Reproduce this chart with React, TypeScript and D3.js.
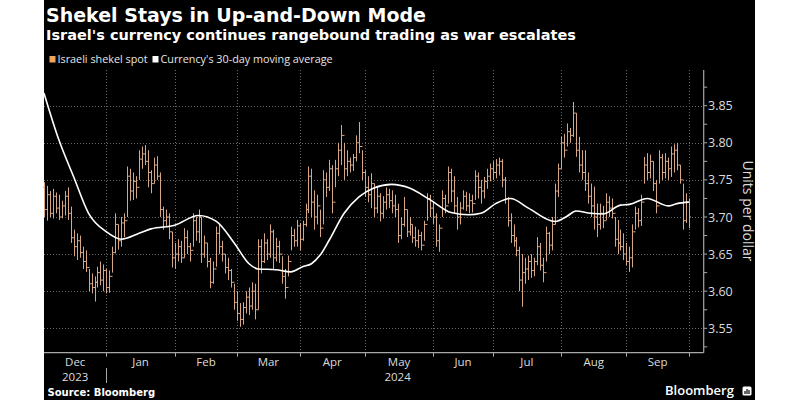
import React from "react";
import * as d3 from "d3";

// Weekday-indexed OHLC data, Dec 1 2023 (index 0) through Oct 1 2024 (index 217)
const opens = [
  // Dec
  3.740,3.710,3.730,3.705,3.728,3.712,3.700,3.715,3.728,3.705,3.672,3.660,3.668,3.652,3.640,3.632,3.610,3.605,3.612,3.625,3.615,
  // Jan
  3.628,3.605,3.620,3.652,3.690,3.668,3.692,3.695,3.755,3.735,3.748,3.740,3.778,3.785,3.775,3.760,3.745,3.770,3.755,3.710,3.695,3.700,3.680,
  // Feb
  3.645,3.650,3.660,3.645,3.672,3.660,3.655,3.695,3.680,3.700,3.650,3.665,3.640,3.612,3.630,3.678,3.660,3.650,3.632,3.628,3.612,
  // Mar
  3.585,3.570,3.562,3.578,3.592,3.580,3.600,3.575,3.660,3.640,3.665,3.650,3.680,3.645,3.660,3.650,3.620,3.605,3.640,3.675,3.668,
  // Apr
  3.688,3.670,3.690,3.710,3.755,3.720,3.700,3.715,3.685,3.750,3.740,3.765,3.720,3.765,3.790,3.810,3.765,3.775,3.770,3.780,3.800,3.795,
  // May
  3.760,3.740,3.730,3.745,3.712,3.728,3.705,3.720,3.730,3.722,3.715,3.710,3.675,3.690,3.710,3.680,3.690,3.672,3.668,3.675,3.662,3.690,3.725,
  // Jun
  3.712,3.700,3.668,3.685,3.725,3.715,3.760,3.735,3.715,3.700,3.712,3.728,3.715,3.722,3.718,3.755,3.740,3.735,3.748,3.755,
  // Jul
  3.765,3.760,3.770,3.775,3.750,3.725,3.695,3.675,3.668,3.655,3.615,3.625,3.630,3.640,3.628,3.640,3.660,3.635,3.625,3.678,3.662,3.690,3.735,
  // Aug
  3.765,3.800,3.790,3.815,3.810,3.840,3.790,3.770,3.760,3.745,3.728,3.715,3.700,3.690,3.705,3.695,3.720,3.712,3.705,3.670,3.665,3.660,
  // Sep + Oct 1
  3.650,3.640,3.645,3.680,3.705,3.695,3.720,3.770,3.760,3.775,3.745,3.715,3.780,3.760,3.775,3.765,3.785,3.790,3.770,3.750,3.695,3.720,
];
const highs = [
  3.747,3.742,3.735,3.738,3.733,3.730,3.722,3.735,3.740,3.714,3.683,3.678,3.675,3.660,3.655,3.630,3.624,3.620,3.633,3.640,3.636,
  3.630,3.628,3.660,3.705,3.690,3.700,3.705,3.768,3.765,3.760,3.755,3.790,3.795,3.797,3.790,3.763,3.780,3.782,3.760,3.714,3.710,3.705,3.680,
  3.665,3.670,3.668,3.685,3.682,3.665,3.705,3.700,3.710,3.700,3.675,3.665,3.645,3.640,3.687,3.690,3.668,3.650,3.645,3.630,3.610,
  3.600,3.584,3.585,3.600,3.605,3.612,3.610,3.670,3.670,3.678,3.670,3.690,3.683,3.672,3.668,3.647,3.630,3.648,3.687,3.684,3.696,
  3.692,3.695,3.718,3.768,3.765,3.736,3.730,3.710,3.763,3.760,3.777,3.770,3.777,3.800,3.824,3.800,3.790,3.780,3.785,3.810,3.828,3.790,
  3.763,3.755,3.759,3.745,3.740,3.732,3.728,3.740,3.738,3.736,3.730,3.718,3.700,3.727,3.710,3.700,3.690,3.687,3.683,3.680,3.695,3.732,3.730,
  3.720,3.705,3.690,3.736,3.730,3.768,3.765,3.755,3.727,3.720,3.736,3.734,3.732,3.730,3.763,3.760,3.750,3.754,3.765,3.772,
  3.775,3.778,3.780,3.778,3.754,3.727,3.705,3.690,3.673,3.660,3.650,3.645,3.648,3.650,3.645,3.673,3.665,3.645,3.687,3.680,3.700,3.745,3.772,
  3.808,3.812,3.826,3.820,3.855,3.840,3.808,3.790,3.790,3.760,3.745,3.741,3.718,3.718,3.715,3.732,3.728,3.725,3.700,3.696,3.683,3.678,
  3.665,3.660,3.690,3.714,3.712,3.730,3.781,3.786,3.784,3.775,3.750,3.790,3.785,3.786,3.780,3.795,3.798,3.800,3.770,3.745,3.732,3.725,
];
const lows = [
  3.700,3.695,3.700,3.698,3.705,3.696,3.698,3.702,3.696,3.665,3.647,3.642,3.645,3.630,3.626,3.600,3.597,3.586,3.605,3.608,3.600,
  3.597,3.598,3.625,3.651,3.656,3.660,3.673,3.700,3.722,3.723,3.725,3.750,3.765,3.770,3.740,3.732,3.745,3.750,3.700,3.683,3.688,3.670,3.632,
  3.630,3.640,3.638,3.645,3.650,3.640,3.660,3.668,3.665,3.638,3.645,3.632,3.604,3.610,3.633,3.650,3.640,3.624,3.615,3.605,3.575,
  3.560,3.552,3.555,3.570,3.568,3.575,3.562,3.575,3.624,3.638,3.642,3.645,3.630,3.640,3.638,3.610,3.590,3.620,3.655,3.660,3.660,
  3.655,3.668,3.687,3.705,3.700,3.683,3.690,3.673,3.690,3.727,3.735,3.705,3.740,3.755,3.770,3.750,3.755,3.760,3.762,3.775,3.786,3.750,
  3.727,3.720,3.712,3.700,3.705,3.694,3.698,3.710,3.712,3.705,3.700,3.665,3.670,3.687,3.673,3.675,3.665,3.660,3.658,3.655,3.668,3.695,3.700,
  3.690,3.660,3.653,3.700,3.705,3.718,3.720,3.705,3.683,3.690,3.710,3.708,3.705,3.706,3.723,3.725,3.718,3.725,3.738,3.748,
  3.750,3.752,3.756,3.740,3.718,3.687,3.665,3.660,3.647,3.600,3.579,3.610,3.615,3.618,3.620,3.635,3.628,3.612,3.640,3.650,3.655,3.690,3.727,
  3.765,3.780,3.795,3.800,3.808,3.781,3.760,3.750,3.735,3.718,3.700,3.683,3.673,3.683,3.685,3.696,3.700,3.698,3.660,3.650,3.655,3.642,
  3.635,3.626,3.632,3.683,3.686,3.688,3.745,3.750,3.752,3.735,3.705,3.745,3.750,3.752,3.750,3.754,3.760,3.763,3.745,3.683,3.692,3.685,
];
const closes = [
  3.710,3.730,3.705,3.728,3.712,3.700,3.715,3.728,3.705,3.672,3.660,3.668,3.652,3.640,3.632,3.610,3.605,3.612,3.625,3.615,3.628,
  3.605,3.620,3.652,3.690,3.668,3.692,3.695,3.755,3.735,3.748,3.740,3.778,3.785,3.775,3.760,3.745,3.770,3.755,3.710,3.695,3.700,3.680,3.645,
  3.650,3.660,3.645,3.672,3.660,3.655,3.695,3.680,3.700,3.650,3.665,3.640,3.612,3.630,3.678,3.660,3.650,3.632,3.628,3.612,3.585,
  3.570,3.562,3.578,3.592,3.580,3.600,3.575,3.660,3.640,3.665,3.650,3.680,3.645,3.660,3.650,3.620,3.605,3.640,3.675,3.668,3.688,
  3.670,3.690,3.710,3.755,3.720,3.700,3.715,3.685,3.750,3.740,3.765,3.720,3.765,3.790,3.810,3.765,3.775,3.770,3.780,3.800,3.795,3.760,
  3.740,3.730,3.745,3.712,3.728,3.705,3.720,3.730,3.722,3.715,3.710,3.675,3.690,3.710,3.680,3.690,3.672,3.668,3.675,3.662,3.690,3.725,3.712,
  3.700,3.668,3.685,3.725,3.715,3.760,3.735,3.715,3.700,3.712,3.728,3.715,3.722,3.718,3.755,3.740,3.735,3.748,3.755,3.765,
  3.760,3.770,3.775,3.750,3.725,3.695,3.675,3.668,3.655,3.615,3.625,3.630,3.640,3.628,3.640,3.660,3.635,3.625,3.678,3.662,3.690,3.735,3.765,
  3.800,3.790,3.815,3.810,3.840,3.790,3.770,3.760,3.745,3.728,3.715,3.700,3.690,3.705,3.695,3.720,3.712,3.705,3.670,3.665,3.660,3.650,
  3.640,3.645,3.680,3.705,3.695,3.720,3.770,3.760,3.775,3.745,3.715,3.780,3.760,3.775,3.765,3.785,3.790,3.770,3.750,3.695,3.720,3.700,
];

// 30-day moving average, sampled at weekday indices
const maIdx = [0,5,10,15,21,26,32,36,44,52,58,64,69,72,78,83,87,90,93,96,101,106,111,117,123,130,137,143,147,152,157,163,172,176,179,184,188,194,197,203,210,213,217];
const maVal = [3.867,3.804,3.754,3.705,3.680,3.670,3.678,3.684,3.689,3.702,3.694,3.665,3.637,3.630,3.629,3.626,3.633,3.637,3.649,3.669,3.705,3.727,3.739,3.744,3.739,3.723,3.706,3.703,3.705,3.718,3.725,3.712,3.694,3.701,3.708,3.705,3.704,3.716,3.717,3.725,3.715,3.718,3.720];

// month boundaries (weekday index of first trading day)
const monthBounds = [0,21,44,65,86,108,131,151,174,196,217];
const monthLabels = ["Dec","Jan","Feb","Mar","Apr","May","Jun","Jul","Aug","Sep"];
const yearLabels = [{ label: "2023", from: 0, to: 21 }, { label: "2024", from: 21, to: 217 }];
const yTicks = [3.55, 3.6, 3.65, 3.7, 3.75, 3.8, 3.85];
const yMinorTicks = [3.525,3.55,3.575,3.6,3.625,3.65,3.675,3.7,3.725,3.75,3.775,3.8,3.825,3.85,3.875];

const BAR = "#d7a785";
const LEG = "#f0a55a";

export default function App() {
  const left = 44, right = 703.7, top = 70, bottom = 352.7;
  const x = d3.scaleLinear().domain([0, 222]).range([left, right]);
  const y = d3.scaleLinear().domain([3.55, 3.85]).range([328.3, 105.7]);
  const maPts: [number, number][] = maIdx.map((d, i) => [x(d), y(maVal[i])]);
  const maPath = d3.line().curve(d3.curveMonotoneX)(maPts) || "";
  const sans = "'Open Sans', 'Noto Sans', sans-serif";
  const bold = "'DejaVu Sans', sans-serif";

  return (
    <svg width={800} height={400} style={{ position: "absolute", left: 0, top: 0, display: "block" }}>
      <rect x={0} y={0} width={800} height={400} fill="#fff" />
      <rect x={44} y={0} width={711} height={400} fill="#000" />
      <text x={46} y={22} fill="#fff" fontFamily={bold} fontWeight="bold" fontSize={19}>Shekel Stays in Up-and-Down Mode</text>
      <text x={46} y={40} fill="#fff" fontFamily={bold} fontWeight="bold" fontSize={14.5}>Israel's currency continues rangebound trading as war escalates</text>
      <rect x={49.5} y={56} width={6} height={6.5} fill={LEG} />
      <text x={57.5} y={63} fill="#e6e6e6" fontFamily={sans} fontSize={10.8}>Israeli shekel spot</text>
      <rect x={152.5} y={56} width={6} height={6.5} fill="#fff" />
      <text x={160.5} y={63} fill="#e6e6e6" fontFamily={sans} fontSize={10.8}>Currency's 30-day moving average</text>

      {/* gridlines */}
      {yTicks.map((t) => (
        <line key={"h" + t} x1={left} x2={right} y1={Math.round(y(t)) + 0.5} y2={Math.round(y(t)) + 0.5} stroke="#6a6a6a" strokeDasharray="1,2" />
      ))}
      {monthBounds.slice(1).map((m) => (
        <line key={"v" + m} x1={Math.round(x(m)) + 0.5} x2={Math.round(x(m)) + 0.5} y1={top} y2={bottom} stroke="#6a6a6a" strokeDasharray="1,2" />
      ))}

      {/* OHLC bars */}
      {highs.map((h, i) => {
        const xc = Math.round(x(i)) + 0.5;
        return (
          <g key={"b" + i} stroke={BAR} strokeWidth={1}>
            <line x1={xc} x2={xc} y1={y(h)} y2={y(lows[i])} />
            <line x1={xc - 1.5} x2={xc} y1={y(opens[i])} y2={y(opens[i])} />
            <line x1={xc} x2={xc + 1.5} y1={y(closes[i])} y2={y(closes[i])} />
          </g>
        );
      })}

      {/* moving average */}
      <path d={maPath} fill="none" stroke="#fff" strokeWidth={1.6} />

      {/* axes */}
      <line x1={left} x2={right} y1={bottom} y2={bottom} stroke="#a8a8a8" strokeWidth={1.2} />
      <line x1={right} x2={right} y1={top} y2={bottom} stroke="#a8a8a8" strokeWidth={1.2} />
      {yMinorTicks.map((t) => (
        <line key={"t" + t} x1={right} x2={right + 3.5} y1={y(t)} y2={y(t)} stroke="#a8a8a8" />
      ))}
      {yTicks.map((t) => (
        <text key={"yl" + t} x={708} y={y(t) + 4.5} fill="#dcdcdc" fontFamily={sans} fontSize={12.5}>{t.toFixed(2)}</text>
      ))}
      <text transform={`translate(743,211) rotate(90)`} textAnchor="middle" fill="#dcdcdc" fontFamily={sans} fontSize={14}>Units per dollar</text>

      {monthBounds.slice(1).map((m) => (
        <line key={"xt" + m} x1={Math.round(x(m)) + 0.5} x2={Math.round(x(m)) + 0.5} y1={bottom} y2={bottom + 4} stroke="#a8a8a8" />
      ))}
      {monthLabels.map((lab, i) => (
        <text key={"ml" + lab} x={(x(monthBounds[i]) + x(monthBounds[i + 1])) / 2} y={365.5} textAnchor="middle" fill="#dcdcdc" fontFamily={sans} fontSize={11.5}>{lab}</text>
      ))}
      {yearLabels.map((yl) => (
        <text key={"yr" + yl.label} x={(x(yl.from) + x(yl.to)) / 2} y={381} textAnchor="middle" fill="#dcdcdc" fontFamily={sans} fontSize={11.5}>{yl.label}</text>
      ))}
      <line x1={Math.round(x(21)) + 0.5} x2={Math.round(x(21)) + 0.5} y1={368} y2={383} stroke="#a8a8a8" />

      <text x={47.5} y={396} fill="#fff" fontFamily={bold} fontWeight="bold" fontSize={10}>Source: Bloomberg</text>
      <text x={665} y={395} fill="#fff" fontFamily={sans} fontWeight={600} fontSize={13}>Bloomberg</text>
      <rect x={742.5} y={386.5} width={9} height={9} rx={1.5} fill="#fff" />
      <line x1={745} x2={745} y1={391} y2={394} stroke="#000" strokeWidth={1.2} />
      <line x1={747} x2={747} y1={389} y2={394} stroke="#000" strokeWidth={1.2} />
      <line x1={749} x2={749} y1={390} y2={394} stroke="#000" strokeWidth={1.2} />
    </svg>
  );
}
